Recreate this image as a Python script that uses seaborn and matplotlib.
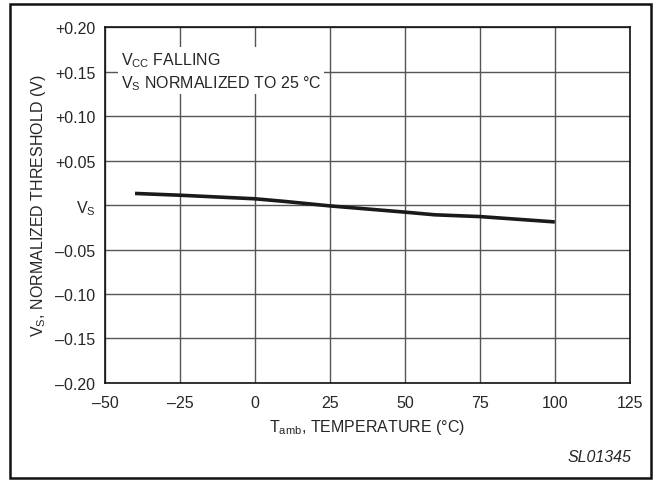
import matplotlib
matplotlib.use("Agg")
import matplotlib.pyplot as plt
import seaborn as sns
import pandas as pd
from matplotlib.patches import Rectangle

# data
temp = [-40, -25, 0, 10, 25, 50, 60, 75, 100]
vs_norm = [0.013, 0.011, 0.007, 0.004, -0.001, -0.008, -0.011, -0.013, -0.019]

x_ticks = [-50, -25, 0, 25, 50, 75, 100, 125]
x_labels = ["\u201350", "\u201325", "0", "25", "50", "75", "100", "125"]
y_ticks = [0.20, 0.15, 0.10, 0.05, 0.0, -0.05, -0.10, -0.15, -0.20]
y_labels = ["+0.20", "+0.15", "+0.10", "+0.05", "V$_\\mathregular{S}$",
            "\u20130.05", "\u20130.10", "\u20130.15", "\u20130.20"]

sns.set_style("white")
plt.rcParams['font.family'] = ['Liberation Sans', 'DejaVu Sans']
plt.rcParams['mathtext.default'] = 'regular'

df = pd.DataFrame({"temp": temp, "vs": vs_norm})

fig = plt.figure(figsize=(6.54, 4.81), dpi=100)
ax = fig.add_axes([0.1606, 0.2017, 0.8024, 0.740])

ax.grid(True, color="#555555", linewidth=1.0)
ax.set_axisbelow(True)
sns.lineplot(data=df, x="temp", y="vs", ax=ax, color="#1a1a1a", linewidth=2.6,
             solid_capstyle="butt")

ax.set_xlim(-50, 125)
ax.set_ylim(-0.20, 0.20)
ax.set_xticks(x_ticks)
ax.set_xticklabels(x_labels, fontsize=11.5)
ax.set_yticks(y_ticks)
ax.set_yticklabels(y_labels, fontsize=11.5)
ax.tick_params(axis="x", length=0, pad=9)
ax.tick_params(axis="y", length=0, pad=7)
for s in ax.spines.values():
    s.set_color("#111111")
    s.set_linewidth(1.2)

ax.set_xlabel("T$_{amb}$, TEMPERATURE (\u00b0C)", fontsize=11.5, labelpad=5)
ax.set_ylabel("V$_S$, NORMALIZED THRESHOLD (V)", fontsize=11.5, labelpad=5)

ax.text(0.03, 0.935, "V$_{CC}$ FALLING\nV$_S$ NORMALIZED TO 25 \u00b0C",
        transform=ax.transAxes, fontsize=11.5, va="top", ha="left",
        linespacing=1.3,
        bbox=dict(facecolor="white", edgecolor="none", pad=2))

fig.text(0.966, 0.04, "SL01345", fontsize=11.5, style="italic", ha="right")

fig.patches.append(Rectangle((0.0153, 0.004), 0.980, 0.9855, transform=fig.transFigure,
                             fill=False, edgecolor="#111111", linewidth=1.8))

fig.savefig("out.png", dpi=100)
